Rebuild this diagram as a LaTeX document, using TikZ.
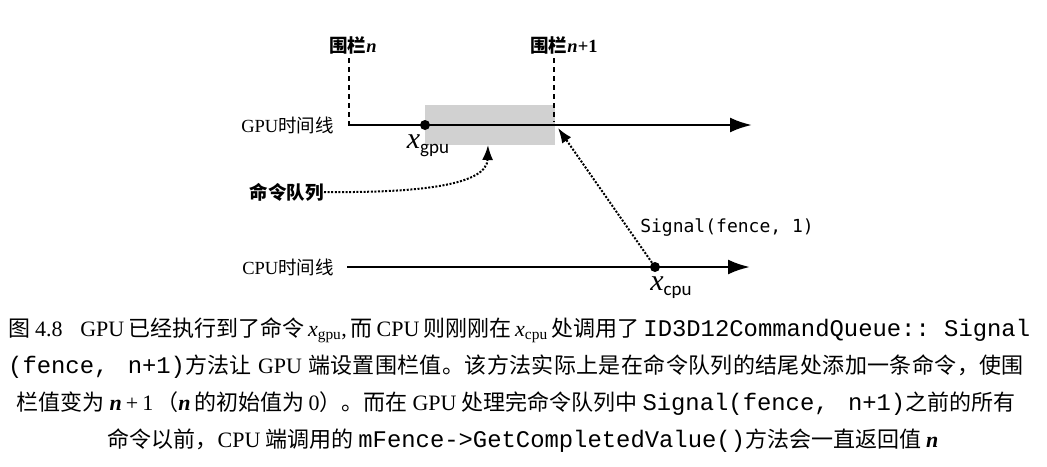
\documentclass[tikz,border=0pt]{standalone}
\usepackage{fontspec}
\setmainfont{Liberation Serif}
\setmonofont{Liberation Mono}[Scale=1.085]
\newfontfamily\cjk{Noto Sans CJK SC}
\newfontfamily\carl{Carlito}
\newfontfamily\dvsm{DejaVu Sans Mono}
\usetikzlibrary{arrows.meta}
\newcommand\zh[1]{{\cjk #1}}
\newcommand\zhb[1]{{\cjk\bfseries #1}}
\def\zsloop#1{\ifx#1\relax\else#1\hskip0pt plus 2pt\relax\expandafter\zsloop\fi}
\newcommand\zs[1]{{\cjk\zsloop#1\relax}}
\newcommand\tcode[1]{{\ttfamily #1}}
\newcommand\gp{\hskip 5.5pt plus 2pt minus 3pt\relax}
\newcommand\nn{\textbf{\textit{n}}}
\begin{document}
\begin{tikzpicture}[x=1pt,y=-1pt,
  timeline/.style={line width=2.6pt,-{Latex[length=22pt,width=15pt]}},
  fenceline/.style={line width=1.6pt,dash pattern=on 5pt off 4pt},
  dotarrow/.style={line width=2pt,dash pattern=on 2pt off 1.6pt,-{Latex[length=15pt,width=11pt]}},
  lab/.style={inner sep=0pt,font=\fontsize{18.5}{20}\selectfont},
  capline/.style={inner sep=0pt,font=\fontsize{22}{26}\selectfont},
  dot/.style={circle,fill=black,inner sep=0pt,minimum size=10pt}]
\path[use as bounding box] (0,0) rectangle (1047,466);
% gray band
\node[fill=black!18,inner sep=0pt,minimum width=130pt,minimum height=40pt] (band) at (490,125) {};
% fences
\node[lab] (f1) at (353,45) {\zhb{围栏}\nn};
\node[lab] (f2) at (564,45) {\zhb{围栏}\nn\textbf{+1}};
\coordinate (f1a) at (349,58);
\coordinate (f1b) at (349,125);
\coordinate (f2a) at (554,58);
\coordinate (f2b) at (554,122);
\draw[fenceline] (f1a) -- (f1b);
\draw[fenceline] (f2a) -- (f2b);
% GPU timeline
\node[lab,anchor=east] (glab) at (334,125) {GPU\zh{时间线}};
\coordinate (gs) at (348,125);
\coordinate (ge) at (752,125);
\draw[timeline] (gs) -- (ge);
\node[dot] (xg) at (425,125) {};
\node[inner sep=0pt] (xgl) at (428,146) {\fontsize{30}{30}\selectfont\textit{x}\raisebox{-5pt}{\carl\fontsize{19}{20}\selectfont gpu}};
% command queue
\node[lab,anchor=east] (cmd) at (324,192) {\zhb{命令队列}};
\coordinate (qtip) at (488,145);
\draw[dotarrow] (cmd.east) .. controls (420,193) and (487,185) .. (qtip);
% CPU timeline
\node[lab,anchor=east] (clab) at (334,267) {CPU\zh{时间线}};
\coordinate (cs) at (347,267);
\coordinate (ce) at (750,267);
\draw[timeline] (cs) -- (ce);
\node[dot] (xc) at (655,267) {};
\node[inner sep=0pt] (xcl) at (671,288) {\fontsize{30}{30}\selectfont\textit{x}\raisebox{-5pt}{\carl\fontsize{19}{20}\selectfont cpu}};
% signal
\coordinate (stip) at (558,128);
\draw[dotarrow] (xc) -- (stip);
\node[inner sep=0pt,font=\dvsm\fontsize{18}{20}\selectfont] (sig) at (727,228) {Signal(fence, 1)};
% caption
\node[capline,anchor=west] (c1) at (8,330) {\hbox to 1022pt{\zh{图}\hskip 5pt 4.8\hskip 22pt plus 4pt minus 8pt GPU\gp\zs{已经执行到了命令}\gp\textit{x}\textsubscript{gpu},\gp\zs{而}\gp CPU\gp\zs{则刚刚在}\gp\textit{x}\textsubscript{cpu}\gp\zs{处调用了}\gp\tcode{ID3D12CommandQueue::~Signal}}};
\node[capline,anchor=west] (c2) at (8,367) {\hbox to 1016pt{\tcode{(fence,~\hskip 5pt n+1)}\zs{方法让}\gp GPU\gp\zs{端设置围栏值。该方法实际上是在命令队列的结尾处添加一条命令，使围}}};
\node[capline] (c3) at (516,404) {\zh{栏值变为}\hskip 5pt\nn\hskip 4pt+\hskip 4pt 1\hskip 3pt\zh{（}\nn\hskip 4pt\zh{的初始值为}\hskip 4pt 0\zh{）。而在}\hskip 5pt GPU\hskip 5pt\zh{处理完命令队列中}\hskip 5pt\tcode{Signal(fence,~\hskip 5pt n+1)}\zh{之前的所有}};
\node[capline] (c4) at (523,441) {\zh{命令以前，}CPU\hskip 5pt\zh{端调用的}\hskip 5pt\tcode{mFence->GetCompletedValue()}\zh{方法会一直返回值}\hskip 5pt\nn};
\end{tikzpicture}
\end{document}
